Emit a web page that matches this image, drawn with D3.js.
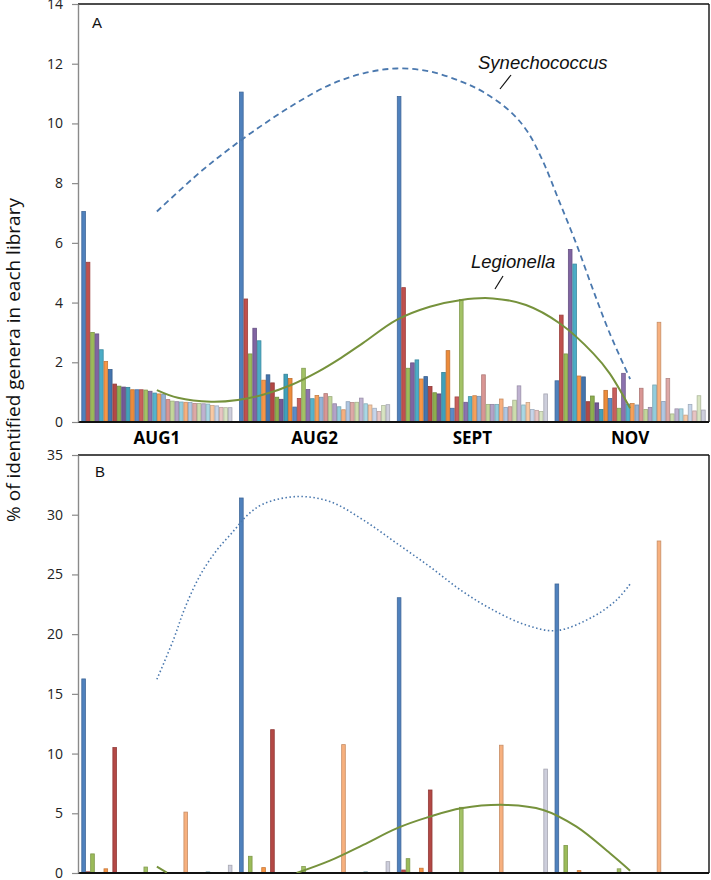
<!DOCTYPE html>
<html><head><meta charset="utf-8">
<script src="https://cdn.jsdelivr.net/npm/d3@7"></script>
<style>body{margin:0;background:#fff}svg{display:block}</style>
</head><body><svg id="c" width="711" height="880"></svg>
<script>
// ---------------- DATA ----------------
const categories = ["AUG1", "AUG2", "SEPT", "NOV"];
const seriesColors = [
  "#4F81BD","#C0504D","#9BBB59","#8064A2","#4BACC6","#F79646",
  "#4474AE","#B34845","#8DAE4E","#735896","#40A0BA","#EC8B3A",
  "#5A8BC8","#C95F5C","#A3C266","#8B72AE","#55B3CC","#F6A05A",
  "#95B3D7","#D99694","#C3D69B","#B3A2C7","#93CDDD","#F7B07E",
  "#B0C7E3","#DDA8A6","#CDDDAD","#BFB2D1","#A9D7E4","#F8C9A3",
  "#C6D5EA","#E8C4C3","#D8E4C2","#CDCEDC"
];
// Panel A values (34 genera per library)
const aAug1 = [7.05,5.35,3.0,2.95,2.42,2.03,1.76,1.27,1.2,1.17,1.16,1.08,1.08,1.08,1.07,1.03,0.97,0.94,0.93,0.75,0.7,0.68,0.67,0.66,0.65,0.62,0.62,0.61,0.6,0.55,0.54,0.49,0.48,0.48];
const aAug2 = [11.05,4.12,2.28,3.14,2.72,1.4,1.58,1.31,0.83,0.76,1.6,1.46,0.5,0.79,1.8,1.09,0.78,0.89,0.83,0.95,0.85,0.61,0.51,0.41,0.68,0.65,0.66,0.8,0.61,0.57,0.46,0.35,0.55,0.58];
const aSept = [10.9,4.5,1.8,1.98,2.08,1.44,1.52,1.19,0.98,0.94,1.66,2.39,0.46,0.84,4.1,0.66,0.85,0.88,0.86,1.58,0.59,0.59,0.59,0.77,0.49,0.51,0.73,1.21,0.57,0.65,0.42,0.39,0.35,0.94];
const aNov  = [1.38,3.58,2.28,5.78,5.29,1.54,1.51,0.68,0.87,0.64,0.42,1.06,0.79,1.14,0.46,1.63,0.6,0.62,0.57,1.13,0.42,0.49,1.24,3.34,0.69,1.46,0.27,0.44,0.44,0.23,0.59,0.37,0.88,0.4];
// Panel B values
const bAug1 = [16.25,0.1,1.6,0,0,0.35,0,10.5,0,0,0,0,0,0,0.5,0,0,0,0,0,0,0.05,0,5.1,0,0,0,0,0.1,0,0,0,0,0.65];
const bAug2 = [31.4,0,1.4,0,0,0.45,0,12.0,0,0,0,0,0,0,0.55,0,0,0,0,0,0,0,0,10.75,0,0,0,0,0.1,0,0,0,0,0.95];
const bSept = [23.05,0.25,1.2,0,0,0.4,0,6.95,0,0,0,0,0,0,5.5,0,0,0,0,0,0,0,0,10.7,0,0,0,0,0,0,0,0,0,8.7];
const bNov  = [24.2,0,2.3,0,0,0.2,0,0,0,0,0,0,0,0,0.35,0,0,0,0,0,0,0,0,27.8,0,0,0,0,0,0,0,0,0,0];
// Tick labels
const aTicks = [0,2,4,6,8,10,12,14];
const bTicks = [0,5,10,15,20,25,30,35];
// Trend lines (position in category units: 0 = AUG1 ... 3 = NOV)
const synATrendPos = [0,0.27,0.46,0.67,0.89,1.10,1.31,1.52,1.73,1.93,2.07,2.24,2.35,2.45,2.55,2.66,2.76,2.87,3.0];
const synATrendVal = [7.05,8.35,9.15,9.95,10.7,11.3,11.68,11.84,11.74,11.4,11.05,10.4,9.72,8.7,7.4,5.95,4.5,2.98,1.44];
const legATrendPos = [0,0.133,0.344,0.513,0.683,0.851,1.02,1.168,1.308,1.52,1.73,1.93,2.13,2.34,2.555,2.766,2.87,3.0];
const legATrendVal = [1.07,0.81,0.68,0.74,0.93,1.24,1.68,2.15,2.65,3.42,3.86,4.09,4.14,3.92,3.30,2.30,1.63,0.46];
const synBTrendPos = [0,0.104,0.178,0.273,0.378,0.484,0.569,0.674,0.886,1.097,1.308,1.52,1.73,1.93,2.13,2.34,2.534,2.766,2.914,3.0];
const synBTrendVal = [16.22,19.5,22.2,24.9,27.0,28.6,29.9,30.9,31.52,31.1,29.56,27.61,25.65,23.65,22.03,20.77,20.3,21.47,22.86,24.2];
const legBTrendPos = [0,0.063,0.5,0.886,1.097,1.308,1.52,1.73,1.93,2.217,2.449,2.66,2.872,3.0];
const legBTrendVal = [0.53,0.03,null,0,1.03,2.35,3.74,4.72,5.42,5.70,5.28,3.88,1.65,0.19];

// ---------------- DRAW ----------------
const svg = d3.select("#c");
const left = 78, right = 709;
const x0 = d3.scaleBand().domain(categories).range([left, right]).paddingInner(0.043).paddingOuter(0.0215);
const x1 = d3.scaleBand().domain(seriesColors.map((c, i) => i)).range([0, x0.bandwidth()]);
const xt = d3.scaleLinear().domain([0, 3]).range([x0("AUG1") + x0.bandwidth() / 2, x0("NOV") + x0.bandwidth() / 2]);

const panels = [
  { id: "A", vals: [aAug1, aAug2, aSept, aNov], y: d3.scaleLinear().domain([0, 14]).range([422, 4]), ticks: aTicks,
    syn: [synATrendPos, synATrendVal], leg: [legATrendPos, legATrendVal], dash: "6,4", label: [92, 28] },
  { id: "B", vals: [bAug1, bAug2, bSept, bNov], y: d3.scaleLinear().domain([0, 35]).range([873, 455]), ticks: bTicks,
    syn: [synBTrendPos, synBTrendVal], leg: [legBTrendPos, legBTrendVal], dash: "1.5,2.5", label: [95, 477] }
];

const font = "'Open Sans', sans-serif";

panels.forEach((p, pi) => {
  const g = svg.append("g");
  const y = p.y;
  const top = y.range()[1], bottom = y.range()[0];

  g.append("clipPath").attr("id", "clip" + pi).append("rect")
    .attr("x", left).attr("y", top).attr("width", right - left).attr("height", bottom - top);

  // bars
  categories.forEach((cat, ci) => {
    const data = p.vals[ci].map((v, i) => ({ v, i })).filter(d => d.v > 0);
    g.append("g").selectAll("rect").data(data).join("rect")
      .attr("x", d => x0(cat) + x1(d.i) + 0.4)
      .attr("width", x1.bandwidth() - 0.8)
      .attr("y", d => y(d.v))
      .attr("height", d => y(0) - y(d.v))
      .attr("fill", d => seriesColors[d.i])
      .attr("stroke", d => d3.color(seriesColors[d.i]).darker(0.6))
      .attr("stroke-width", 0.8);
  });

  // frame: top and right
  g.append("line").attr("x1", left).attr("x2", right).attr("y1", top).attr("y2", top)
    .attr("stroke", "#111").attr("stroke-width", 1.4);
  g.append("line").attr("x1", right).attr("x2", right).attr("y1", top).attr("y2", bottom)
    .attr("stroke", "#111").attr("stroke-width", 1.4);
  // bottom axis line
  g.append("line").attr("x1", left).attr("x2", right).attr("y1", y(0)).attr("y2", y(0))
    .attr("stroke", "#111").attr("stroke-width", 2);

  // left axis
  const ax = g.append("g").attr("transform", `translate(${left},0)`)
    .call(d3.axisLeft(y).tickValues(p.ticks).tickSize(6).tickPadding(9).tickSizeOuter(0));
  ax.select(".domain").attr("stroke", "#8a8a8a").attr("stroke-width", 1.4);
  ax.selectAll(".tick line").attr("stroke", "#8a8a8a").attr("stroke-width", 1.2);
  ax.selectAll(".tick text").attr("font-family", font).attr("font-size", 14).attr("fill", "#222");

  // trend lines
  const line = d3.line().defined(d => d.v != null).x(d => xt(d.t)).y(d => y(d.v)).curve(d3.curveCatmullRom.alpha(0.5));
  const synPts = p.syn[0].map((t, i) => ({ t, v: p.syn[1][i] }));
  const legPts = p.leg[0].map((t, i) => ({ t, v: p.leg[1][i] }));
  const tl = g.append("g").attr("clip-path", `url(#clip${pi})`);
  tl.append("path").attr("d", line(legPts)).attr("fill", "none")
    .attr("stroke", "#76923C").attr("stroke-width", 2);
  tl.append("path").attr("d", line(synPts)).attr("fill", "none")
    .attr("stroke", "#4A78AE").attr("stroke-width", pi === 0 ? 1.8 : 1.6)
    .attr("stroke-dasharray", p.dash);

  // panel letter
  g.append("text").attr("x", p.label[0]).attr("y", p.label[1]).text(p.id)
    .attr("font-family", "'Liberation Sans', Arial, sans-serif").attr("font-size", 15).attr("fill", "#111");
});

// category labels
svg.append("g").selectAll("text").data(categories).join("text")
  .attr("x", d => x0(d) + x0.bandwidth() / 2).attr("y", 444)
  .attr("text-anchor", "middle").attr("font-family", font).attr("font-weight", 700)
  .attr("font-size", 17).attr("fill", "#000").text(d => d);

// trend annotations
const ann = svg.append("g").attr("font-family", "'Liberation Sans', Arial, sans-serif")
  .attr("font-style", "italic").attr("font-size", 18.5).attr("fill", "#111");
ann.append("text").attr("x", 478).attr("y", 69).text("Synechococcus");
ann.append("line").attr("x1", 500).attr("y1", 89).attr("x2", 511).attr("y2", 75).attr("stroke", "#111").attr("stroke-width", 1.2);
ann.append("text").attr("x", 471).attr("y", 268).text("Legionella");
ann.append("line").attr("x1", 495).attr("y1", 289).attr("x2", 503).attr("y2", 276).attr("stroke", "#111").attr("stroke-width", 1.2);

// y-axis title
svg.append("text").attr("transform", "translate(20,360) rotate(-90)")
  .attr("text-anchor", "middle").attr("font-family", font).attr("font-size", 19).attr("fill", "#111")
  .text("% of identified genera in each library");
</script></body></html>
